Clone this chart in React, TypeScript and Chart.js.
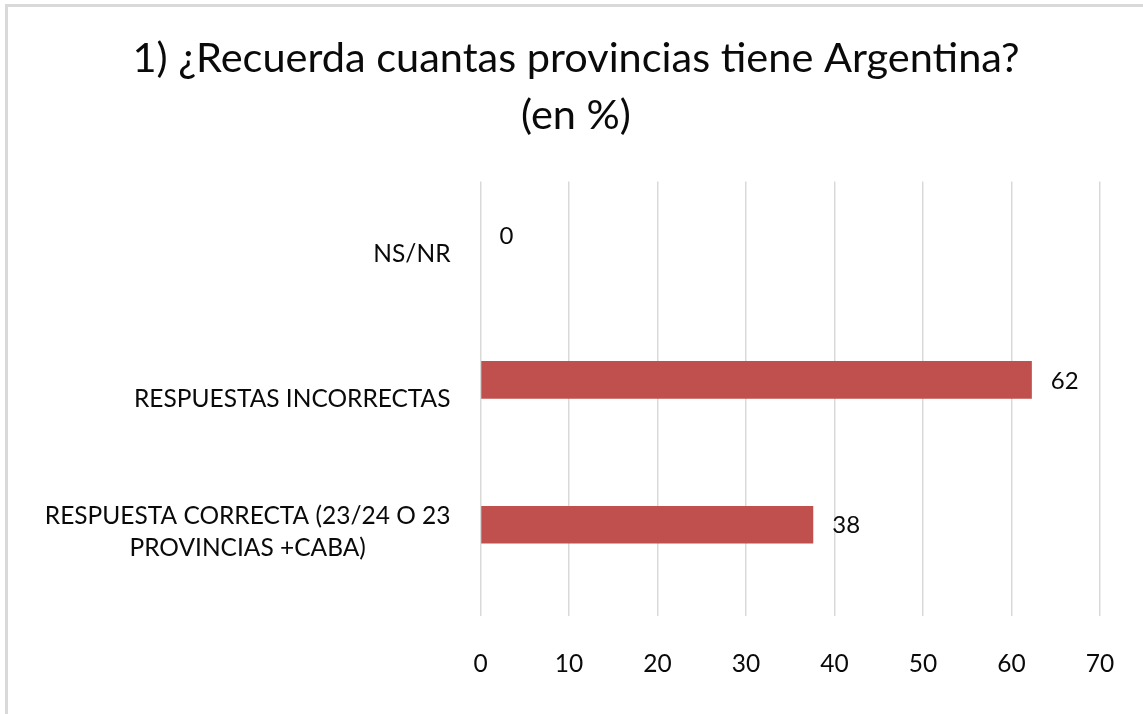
import React, { useEffect, useRef } from "react";
import { Chart, registerables } from "chart.js";

Chart.register(...registerables);

const categories: (string | string[])[] = [
  "NS/NR",
  "RESPUESTAS INCORRECTAS",
  ["RESPUESTA CORRECTA (23/24 O 23", "PROVINCIAS +CABA)"],
];
const values: number[] = [0, 62.3, 37.6];
const emptySeries: (number | null)[] = [null, null, null];
const titleLines: string[] = ["1) ¿Recuerda cuantas provincias tiene Argentina?", "(en %)"];
const xMin = 0;
const xMax = 70;
const xStep = 10;

const FONT = "Lato, 'Open Sans', sans-serif";
const TEXT = "#0a0a0a";

const valueLabels = {
  id: "valueLabels",
  afterDatasetsDraw(chart: any) {
    const ctx = chart.ctx;
    ctx.save();
    ctx.font = `24px ${FONT}`;
    ctx.fillStyle = TEXT;
    ctx.textAlign = "left";
    ctx.textBaseline = "middle";
    chart.getDatasetMeta(0).data.forEach((el: any, i: number) => {
      ctx.fillText(String(Math.round(values[i])), el.x + 19, el.y + 1);
    });
    ctx.restore();
  },
};

// Category labels: single lines right-aligned, wrapped labels centred as a block (as in the original)
const categoryLabels = {
  id: "categoryLabels",
  afterDraw(chart: any) {
    const ctx = chart.ctx;
    const scale = chart.scales.y;
    const right = scale.right - 30;
    const lh = 32;
    ctx.save();
    ctx.font = `24.5px ${FONT}`;
    ctx.fillStyle = TEXT;
    ctx.textBaseline = "middle";
    categories.forEach((lab, i) => {
      const cy = scale.getPixelForTick(i);
      if (Array.isArray(lab)) {
        const widest = Math.max(...lab.map((l) => ctx.measureText(l).width));
        const cx = right - widest / 2;
        ctx.textAlign = "center";
        const base = cy - 11 - ((lab.length - 1) * lh) / 2;
        lab.forEach((l, k) => ctx.fillText(l, cx, base + k * lh));
      } else {
        ctx.textAlign = "right";
        ctx.fillText(lab, right, cy);
      }
    });
    ctx.restore();
  },
};

export default function App() {
  const ref = useRef<HTMLCanvasElement>(null);
  useEffect(() => {
    document.body.style.margin = "0";
    const chart = new Chart(ref.current!, {
      type: "bar",
      data: {
        labels: categories,
        datasets: [
          {
            data: values,
            backgroundColor: "#c0504d",
            borderWidth: 0,
            categoryPercentage: 0.52,
            barPercentage: 1,
          },
          {
            data: emptySeries,
            backgroundColor: "#4f81bd",
            borderWidth: 0,
            categoryPercentage: 0.52,
            barPercentage: 1,
          },
        ],
      },
      options: {
        indexAxis: "y",
        responsive: false,
        animation: false,
        layout: { padding: { left: 17, right: 8, top: 0, bottom: 0 } },
        plugins: {
          legend: { display: false },
          tooltip: { enabled: false },
          title: {
            display: true,
            text: titleLines,
            color: TEXT,
            font: { family: FONT, size: 41.5, weight: "normal", lineHeight: 1.38 },
            padding: { top: 30, bottom: 37 },
          },
        },
        scales: {
          x: {
            min: xMin,
            max: xMax,
            ticks: {
              stepSize: xStep,
              color: TEXT,
              font: { family: FONT, size: 24.5 },
              padding: 8,
            },
            grid: {
              color: "#d9d9d9",
              lineWidth: 1.5,
              drawTicks: true,
              tickLength: 25,
              tickColor: "rgba(0,0,0,0)",
            },
            border: { display: false },
            afterFit: (s: any) => {
              s.height = 98;
            },
          },
          y: {
            ticks: { display: false },
            grid: { display: false, drawTicks: false },
            border: { display: false },
            afterFit: (s: any) => {
              s.width = 463.5;
            },
          },
          yRight: {
            position: "right",
            display: true,
            ticks: { display: false },
            grid: { display: false, drawTicks: false },
            border: { display: false },
            afterFit: (s: any) => {
              s.width = 35;
            },
          },
        },
      },
      plugins: [valueLabels, categoryLabels],
    });
    return () => chart.destroy();
  }, []);
  return (
    <div style={{ position: "relative", width: 1143, height: 714, overflow: "hidden", background: "#fff" }}>
      <canvas ref={ref} width={1143} height={714} style={{ position: "absolute", left: 0, top: 0 }} />
      <div
        style={{
          position: "absolute",
          left: 5,
          top: 4,
          width: 1200,
          height: 800,
          border: "3px solid #d9d9d9",
          pointerEvents: "none",
        }}
      />
    </div>
  );
}
